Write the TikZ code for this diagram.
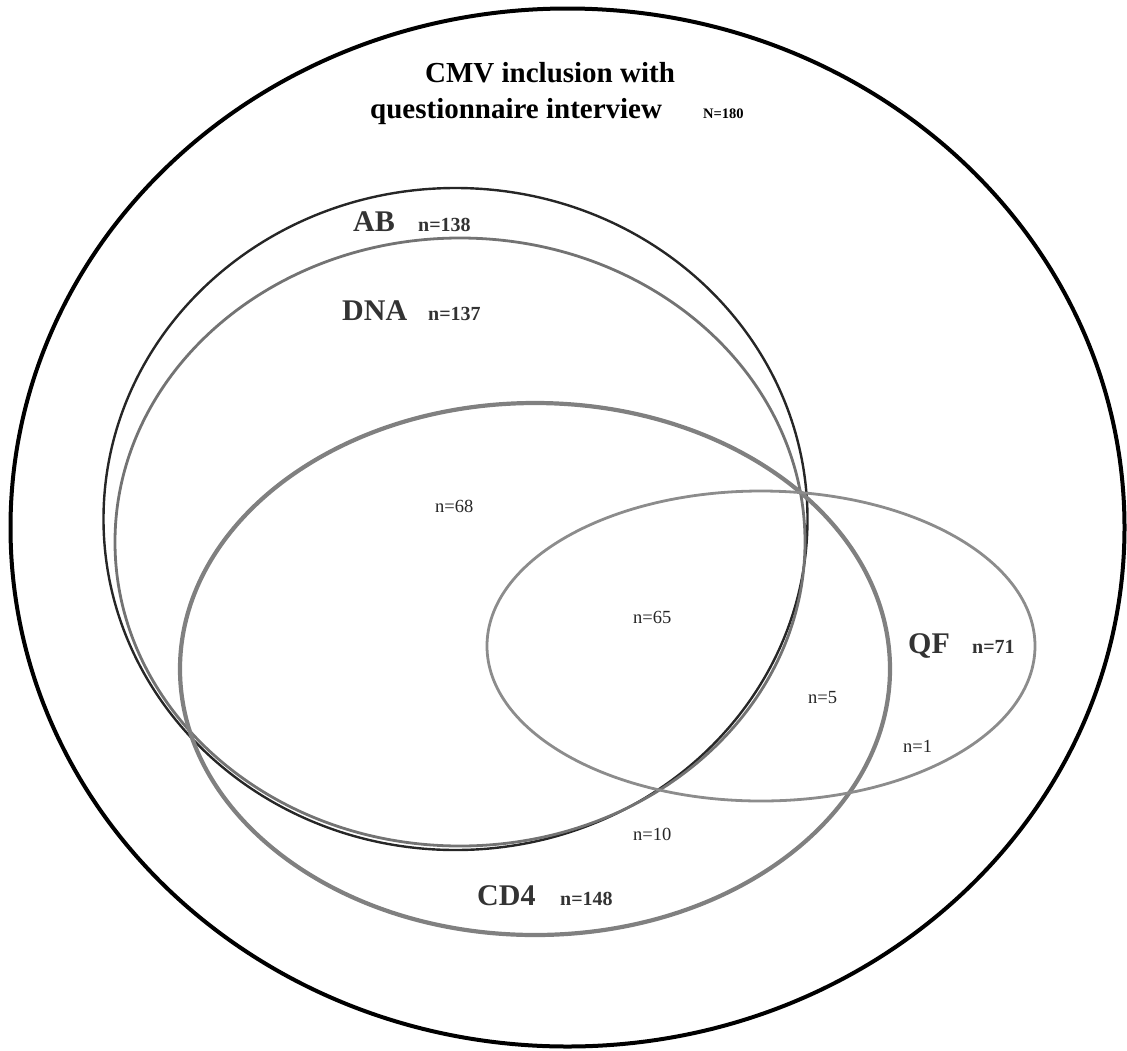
\documentclass[tikz,border=0pt]{standalone}
\usepackage{fontspec}
\setmainfont{Liberation Serif}
\begin{document}
\begin{tikzpicture}[x=1pt,y=-1pt,
  lbl/.style={anchor=base west,inner sep=0pt,font=\fontsize{30}{30}\selectfont\bfseries,text=black!80},
  cnt/.style={anchor=base west,inner sep=0pt,font=\fontsize{20}{20}\selectfont\bfseries,text=black!80},
  num/.style={anchor=base west,inner sep=0pt,font=\fontsize{18.5}{18.5}\selectfont,text=black!85},
  ttl/.style={inner sep=0pt,font=\fontsize{29}{29}\selectfont\bfseries,text=black}]
\useasboundingbox (0,0) rectangle (1127,1050);
% sets
\draw[line width=4pt,black] (567.5,527.5) ellipse [x radius=557pt,y radius=519pt];
\draw[line width=2.4pt,black!85] (455.5,519) ellipse [x radius=352pt,y radius=331pt];
\draw[line width=2.8pt,black!55] (460,542) ellipse [x radius=345pt,y radius=304pt];
\draw[line width=4.2pt,black!50] (535,669) ellipse [x radius=355pt,y radius=266pt];
\draw[line width=2.8pt,black!45] (761,646) ellipse [x radius=274pt,y radius=155pt];
% title
\node[ttl,anchor=base] (t1) at (550,82) {CMV inclusion with};
\node[ttl,anchor=base west] (t2) at (370,118) {questionnaire interview};
\node[anchor=base west,inner sep=0pt,font=\fontsize{14.5}{14.5}\selectfont\bfseries] (tn) at (703,118) {N=180};
% set labels
\node[lbl] (ab) at (353,231) {AB};
\node[cnt] (abn) at (418,231) {n=138};
\node[lbl] (dna) at (342,320) {DNA};
\node[cnt] (dnan) at (428,320) {n=137};
\node[lbl] (cd) at (477,905) {CD4};
\node[cnt] (cdn) at (560,905) {n=148};
\node[lbl] (qf) at (908,653) {QF};
\node[cnt] (qfn) at (972,653) {n=71};
% region counts
\node[num] (r68) at (435,512) {n=68};
\node[num] (r65) at (633,623) {n=65};
\node[num] (r5) at (808,703) {n=5};
\node[num] (r1) at (903,752) {n=1};
\node[num] (r10) at (633,840) {n=10};
\end{tikzpicture}
\end{document}
